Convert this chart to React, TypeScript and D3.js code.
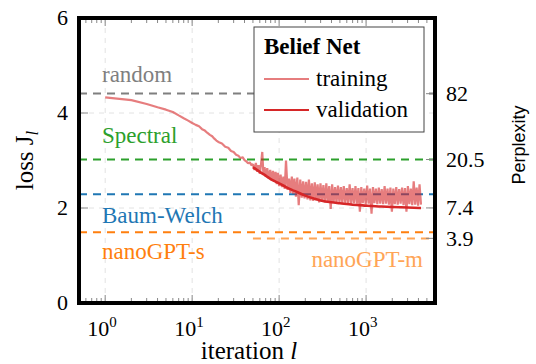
import React from 'react'
import * as d3 from 'd3'

// reference levels (loss), labels and colours
const refNames = ['random', 'Spectral', 'Baum-Welch', 'nanoGPT-s', 'nanoGPT-m']
const refLoss = [4.41, 3.02, 2.29, 1.49, 1.36]
const refStart = [0.5, 0.5, 0.5, 0.5, 50]
const refColors = ['#7f7f7f', '#2ca02c', '#1f77b4', '#ff7f0e', '#ffa556']

const perplexTicks = [82, 20.5, 7.4, 3.9]
const lossTicks = [0, 2, 4, 6]
const iterTicks = [1, 10, 100, 1000]

const trainIter = [
  1, 2, 3, 4, 5, 6, 7, 8, 9, 10, 11, 12, 13, 14, 15, 16, 17, 18, 19, 20,
  22, 24, 26, 28, 30, 32, 34, 36, 38, 40, 42, 44, 46, 48,
  50, 52, 54, 56, 58, 60, 62, 64, 66, 68, 70, 73, 76, 79, 82, 85, 88, 91, 94, 97,
  100, 104, 108, 112, 116, 120, 125, 130, 135, 140, 145,
  150, 156, 162, 168, 175, 182, 189, 196, 204, 212,
  220, 229, 238, 247, 257, 267, 277, 288, 299, 311,
  323, 336, 349, 363, 377, 392, 407, 423, 440, 457,
  475, 494, 513, 533, 554, 576, 599, 622, 647, 672,
  699, 726, 755, 785, 816, 848, 881, 916, 952, 990,
  1029, 1069, 1111, 1155, 1200, 1247, 1296, 1347, 1400, 1455,
  1512, 1572, 1633, 1697, 1764, 1833, 1905, 1980, 2058, 2139,
  2223, 2310, 2401, 2495, 2593, 2695, 2801, 2911, 3025, 3144,
  3267, 3396, 3529, 3668, 3812, 3962, 4117, 4280
]
const trainLoss = [
  4.33, 4.27, 4.19, 4.12, 4.07, 4.02, 3.95, 3.89, 3.84, 3.79, 3.75, 3.72, 3.66, 3.63, 3.58, 3.54, 3.51, 3.46, 3.42, 3.39,
  3.36, 3.29, 3.27, 3.2, 3.18, 3.12, 3.1, 3.05, 3.07, 3.01, 2.98, 2.94, 2.96, 2.9,
  2.92, 2.8, 2.95, 2.76, 2.9, 2.72, 2.93, 3.18, 2.7, 2.86, 2.66, 2.84, 2.62, 2.8, 2.58, 2.78, 2.55, 2.76, 2.5, 2.74,
  2.46, 2.7, 2.44, 2.66, 2.4, 3.0, 2.38, 2.62, 2.32, 2.66, 2.3,
  2.62, 2.24, 2.64, 2.06, 2.6, 2.22, 2.56, 2.2, 2.55, 2.18,
  2.6, 2.16, 2.52, 2.15, 2.54, 2.16, 2.5, 2.12, 2.52, 2.14,
  2.48, 2.12, 2.52, 2.12, 2.46, 1.98, 2.5, 2.12, 2.44, 2.11,
  2.47, 2.12, 2.44, 2.1, 2.46, 2.11, 2.42, 2.1, 2.5, 2.08,
  2.42, 2.1, 2.46, 2.09, 2.42, 1.92, 2.44, 2.1, 2.41, 2.08,
  2.47, 2.09, 2.41, 1.88, 2.44, 2.1, 2.41, 2.08, 2.43, 2.09,
  2.4, 2.08, 2.46, 2.09, 2.41, 2.07, 2.43, 1.92, 2.41, 2.08,
  2.44, 2.07, 2.4, 2.09, 2.43, 2.06, 2.42, 1.92, 2.46, 2.08,
  2.41, 2.06, 2.56, 2.07, 2.43, 2.05, 2.5, 2.07
]

const valIter = [50, 60, 70, 80, 90, 100, 120, 150, 200, 250, 300, 400, 500, 700, 1000, 1500, 2000, 3000, 4280]
const valLoss = [2.86, 2.76, 2.68, 2.61, 2.56, 2.52, 2.44, 2.36, 2.26, 2.2, 2.16, 2.12, 2.1, 2.07, 2.05, 2.03, 2.02, 2.01, 2.0]

const W = 536
const H = 364
const L = 79, R = 435, T = 18, B = 303
const serif = 'Liberation Serif, Times New Roman, serif'

export default function App() {
  const x = d3.scaleLog().domain([0.5, 6200]).range([L, R])
  const y = d3.scaleLinear().domain([0, 6]).range([B, T])

  const minor: number[] = []
  for (let d = 0.1; d <= 1000; d *= 10) {
    for (let k = 2; k <= 9; k++) {
      const v = d * k
      if (v >= 0.5 && v <= 6200) minor.push(v)
    }
  }

  const train = trainIter.map((it, i) => [it, trainLoss[i]] as [number, number])
  const val = valIter.map((it, i) => [it, valLoss[i]] as [number, number])
  const line = d3.line<[number, number]>().x(d => x(d[0])).y(d => y(d[1]))
  const smooth = d3.line<[number, number]>().x(d => x(d[0])).y(d => y(d[1])).curve(d3.curveMonotoneX)

  const sup = ['0', '1', '2', '3']

  return (
    <svg width={W} height={H} style={{ position: 'absolute', left: 0, top: 0, background: '#fff', fontFamily: serif }}>
      {/* grid */}
      {iterTicks.map(v => (
        <line key={'gx' + v} x1={x(v)} x2={x(v)} y1={T} y2={B} stroke="#e2e2e2" strokeDasharray="5,5" />
      ))}
      {[2, 4].map(v => (
        <line key={'gy' + v} x1={L} x2={R} y1={y(v)} y2={y(v)} stroke="#e2e2e2" strokeDasharray="5,5" />
      ))}

      {/* reference levels */}
      {refNames.map((n, i) => (
        <line key={n} x1={x(refStart[i])} x2={R} y1={y(refLoss[i])} y2={y(refLoss[i])}
          stroke={refColors[i]} strokeWidth={2} strokeDasharray="8,6" />
      ))}

      {/* curves */}
      <path d={smooth(val) || ''} fill="none" stroke="#d62728" strokeWidth={2.6} />
      <path d={line(train) || ''} fill="none" stroke="#d62728" strokeOpacity={0.6} strokeWidth={2.2} strokeLinejoin="bevel" />

      {/* reference labels */}
      <g fontSize={23}>
        <text x={102} y={82} fill={refColors[0]}>{refNames[0]}</text>
        <text x={102} y={143} fill={refColors[1]}>{refNames[1]}</text>
        <text x={102} y={223} fill={refColors[2]}>{refNames[2]}</text>
        <text x={102} y={259} fill={refColors[3]}>{refNames[3]}</text>
        <text x={423} y={267} fill={refColors[4]} textAnchor="end">{refNames[4]}</text>
      </g>

      {/* ticks */}
      {iterTicks.map(v => (
        <g key={'tx' + v} stroke="#888">
          <line x1={x(v)} x2={x(v)} y1={B} y2={B - 8} />
          <line x1={x(v)} x2={x(v)} y1={T} y2={T + 8} />
        </g>
      ))}
      {minor.map(v => (
        <g key={'mx' + v} stroke="#888">
          <line x1={x(v)} x2={x(v)} y1={B} y2={B - 5} />
          <line x1={x(v)} x2={x(v)} y1={T} y2={T + 5} />
        </g>
      ))}
      {lossTicks.map(v => (
        <line key={'ty' + v} x1={L} x2={L + 9} y1={y(v)} y2={y(v)} stroke="#888" />
      ))}
      {perplexTicks.map(v => (
        <line key={'tp' + v} x1={R - 9} x2={R} y1={y(Math.log(v))} y2={y(Math.log(v))} stroke="#888" />
      ))}

      {/* frame */}
      <rect x={L} y={T} width={R - L} height={B - T} fill="none" stroke="#000" strokeWidth={4} />

      {/* tick labels */}
      <g fontSize={22}>
        {lossTicks.map(v => (
          <text key={'ly' + v} x={68} y={y(v)} dy="0.34em" textAnchor="end">{v}</text>
        ))}
        {perplexTicks.map(v => (
          <text key={'lp' + v} x={446} y={y(Math.log(v))} dy="0.34em">{v}</text>
        ))}
        {iterTicks.map((v, i) => (
          <text key={'lx' + v} x={x(v) - 18} y={336}>
            10<tspan fontSize={15} dy={-9}>{sup[i]}</tspan>
          </text>
        ))}
      </g>

      {/* axis titles */}
      <text x={249} y={359} fontSize={25} textAnchor="middle">
        iteration <tspan fontStyle="italic">l</tspan>
      </text>
      <text transform={`translate(33,${(T + B) / 2}) rotate(-90)`} fontSize={25} textAnchor="middle">
        loss J<tspan fontSize={17} dy={5} fontStyle="italic">l</tspan>
      </text>
      <text transform={`translate(525,145) rotate(-90)`} fontSize={18} textAnchor="middle"
        style={{ fontFamily: 'Liberation Sans, Arial, sans-serif' }}>Perplexity</text>

      {/* legend */}
      <rect x={254} y={27} width={170} height={105} fill="#fff" stroke="#444" strokeWidth={1} />
      <text x={264} y={54} fontSize={23} fontWeight="bold">Belief Net</text>
      <line x1={264} x2={309} y1={79} y2={79} stroke="#d62728" strokeOpacity={0.6} strokeWidth={2} />
      <text x={316} y={86} fontSize={23}>training</text>
      <line x1={264} x2={309} y1={110} y2={110} stroke="#d62728" strokeWidth={2} />
      <text x={316} y={117} fontSize={23}>validation</text>
    </svg>
  )
}
